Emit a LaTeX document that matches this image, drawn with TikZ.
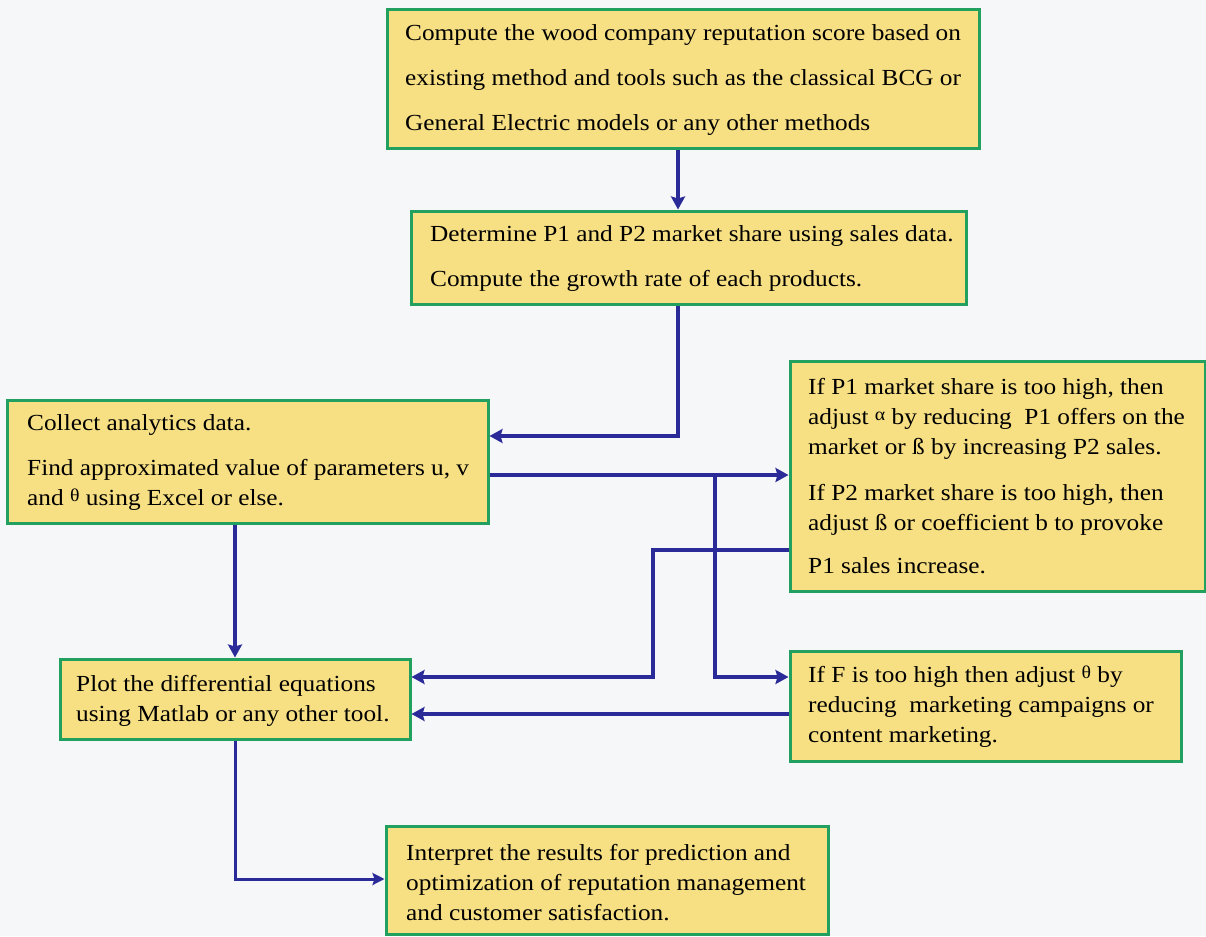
\documentclass[tikz,border=0pt]{standalone}
\usepackage{fontspec}
\setmainfont[FakeStretch=1.1]{Liberation Serif}
\usetikzlibrary{arrows.meta,calc}
\definecolor{boxfill}{HTML}{F7DF84}
\definecolor{boxline}{HTML}{22A060}
\definecolor{arrowblue}{HTML}{2A2B98}
\definecolor{bgcol}{HTML}{F6F7F8}
\newcommand{\grk}[1]{\raisebox{4pt}{\fontsize{18}{18}\selectfont #1}}
\begin{document}
\begin{tikzpicture}[x=1pt,y=-1pt,
 box/.style={draw=boxline, fill=boxfill, line width=3pt, inner sep=0pt},
 txt/.style={anchor=west, align=left, inner sep=0pt, font=\fontsize{23}{30}\selectfont},
 wide/.style={font=\fontsize{23}{45}\selectfont},
 arr/.style={draw=arrowblue, line width=4pt, -{Stealth[length=13pt,width=14pt,inset=2pt]}},
 thinarr/.style={draw=arrowblue, line width=3pt, -{Stealth[length=12pt,width=12pt,inset=2pt]}},
 ]
\fill[bgcol] (0,0) rectangle (1206,936);
\useasboundingbox (0,0) rectangle (1206,936);
% boxes
\node[box, minimum width=592, minimum height=139] (b1) at (683,79.5) {};
\node[box, minimum width=555, minimum height=93] (b2) at (688.5,257.5) {};
\node[box, minimum width=481, minimum height=123] (b3) at (247.5,461.5) {};
\node[box, minimum width=415, minimum height=230] (b4) at (997.5,476) {};
\node[box, minimum width=350, minimum height=80] (b5) at (235,699) {};
\node[box, minimum width=391, minimum height=110] (b6) at (985.5,706) {};
\node[box, minimum width=442, minimum height=108] (b7) at (607,880) {};
% texts
\node[txt, wide] (t1) at (405,80) {Compute the wood company reputation score based on\\ existing method and tools such as the classical BCG or\\ General Electric models or any other methods};
\node[txt, wide] (t2) at (430,259) {Determine P1 and P2 market share using sales data.\\ Compute the growth rate of each products.};
\node[txt] (t3) at (27,462) {Collect analytics data.\\[15pt] Find approximated value of parameters u, v\\ and \grk{θ} using Excel or else.};
\node[txt] (t4) at (808,476) {If P1 market share is too high, then\\ adjust \grk{α} by reducing \ P1 offers on the\\ market or ß by increasing P2 sales.\\[16pt] If P2 market share is too high, then\\ adjust ß or coefficient b to provoke\\[13pt] P1 sales increase.};
\node[txt] (t5) at (76,701) {Plot the differential equations\\ using Matlab or any other tool.};
\node[txt] (t6) at (808,707) {If F is too high then adjust \grk{θ} by\\ reducing \ marketing campaigns or\\ content marketing.};
\node[txt] (t7) at (406,883) {Interpret the results for prediction and\\ optimization of reputation management\\ and customer satisfaction.};
% connectors
\draw[arr] (678,0 |- b1.south) -- (678,0 |- b2.north);
\draw[arr] (678,0 |- b2.south) |- (b3.east |- 0,436);
\coordinate (j1) at (715,475);
\draw[arr] (b3.east |- j1) -- (b4.west |- j1);
\draw[arr] (j1) |- (b6.west |- 0,677);
\coordinate (j2) at (653,550);
\draw[arr] (b4.west |- j2) -- (j2) |- (b5.east |- 0,677);
\draw[arr] (b6.west |- 0,714) -- (b5.east |- 0,714);
\draw[arr] (235,0 |- b3.south) -- (235,0 |- b5.north);
\draw[thinarr] (235,0 |- b5.south) |- (b7.west |- 0,879);
\end{tikzpicture}
\end{document}
